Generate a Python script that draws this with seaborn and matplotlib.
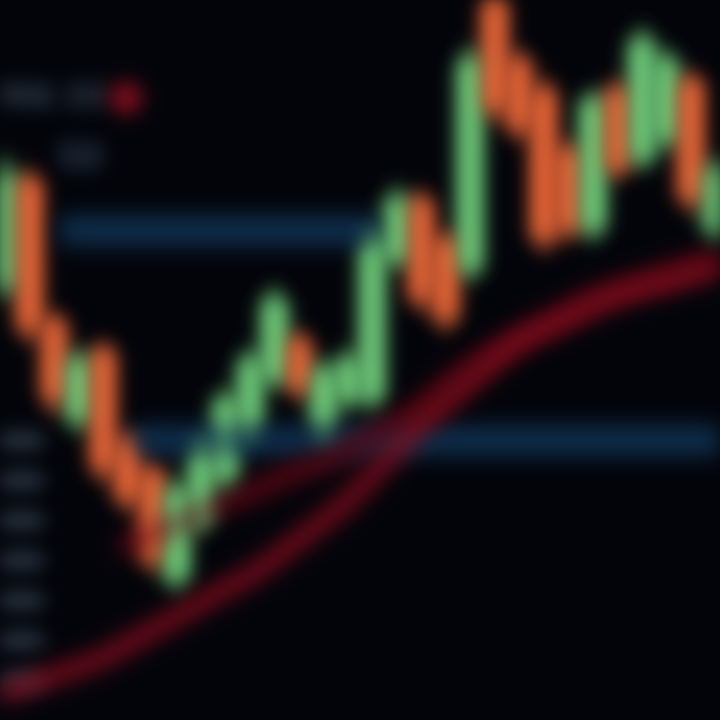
import numpy as np
import pandas as pd
import matplotlib
matplotlib.use("Agg")
import matplotlib.pyplot as plt
import seaborn as sns

# ---------------- data (price scale 0-100) ----------------
opens = [60.3, 75.0, 55.6, 41.7, 51.4, 38.9, 34.7, 19.4, 27.8, 33.3,
         40.3, 47.2, 52.8, 40.3, 44.4, 44.4, 63.9, 72.2, 66.7, 62.5,
         100.0, 91.7, 87.5, 79.2, 68.1, 87.5, 77.8, 80.6, 88.9, 68.1]
closes = [75.6, 54.2, 44.4, 50.0, 34.7, 30.6, 22.2, 31.9, 37.5, 44.4,
          50.0, 58.3, 45.8, 48.6, 50.0, 66.7, 72.2, 58.3, 55.6, 91.7,
          84.7, 81.9, 66.7, 68.1, 86.1, 76.4, 94.4, 91.7, 72.2, 76.4]
highs = [78.0, 76.5, 56.5, 51.5, 52.5, 40.0, 35.5, 33.5, 39.0, 46.0,
         51.5, 60.0, 54.0, 50.0, 51.5, 68.0, 74.0, 73.5, 68.0, 93.5,
         101.0, 93.0, 89.0, 80.5, 87.5, 89.0, 96.0, 93.0, 90.0, 78.0]
lows = [58.5, 52.5, 42.5, 40.0, 33.0, 29.0, 20.5, 18.0, 26.0, 32.0,
        39.0, 46.0, 44.5, 39.0, 43.0, 43.0, 62.5, 57.0, 54.0, 61.0,
        83.0, 80.5, 65.0, 66.5, 66.5, 75.0, 76.5, 79.0, 70.5, 66.5]
ma_fast = [3.7, 4.9, 6.1, 7.3, 8.6, 10.5, 12.4, 14.3, 16.3, 18.2,
           20.0, 22.4, 25.0, 27.6, 30.3, 33.9, 37.5, 41.1, 44.0, 46.9,
           49.9, 52.8, 54.3, 55.8, 57.4, 58.9, 59.9, 60.7, 61.7, 62.6]
ma_slow = [np.nan, np.nan, np.nan, np.nan, np.nan, 24.2, 25.7, 27.2, 28.8, 30.3,
           31.5, 33.1, 34.6, 35.8, 37.5, 39.4, 41.4, 43.3, 46.4, 49.0,
           51.1, 52.8, 54.7, 56.7, 58.6, 59.7, 60.8, 61.9, 63.1, 64.2]
levels = [68.1, 38.9]
level_start = [2.2, 5.1]
level_end = [15.3, 29.5]
axis_ticks = [38.9, 33.3, 27.8, 22.2, 16.7, 11.1, 5.6]
legend_main = "MA 20"
legend_sub = "50"

idx = np.arange(len(opens))
df = pd.DataFrame({"t": idx, "open": opens, "close": closes, "high": highs,
                   "low": lows, "ma_fast": ma_fast, "ma_slow": ma_slow})


# ---------------- blur filter ----------------
def make_blur(sigma):
    r = int(3 * sigma)
    xs = np.arange(-r, r + 1)
    k = np.exp(-xs ** 2 / (2 * sigma ** 2))
    k /= k.sum()

    def conv(a, axis):
        out = np.zeros_like(a)
        for j, w in zip(xs, k):
            out += w * np.roll(a, j, axis=axis)
        return out

    def f(im, dpi):
        pad = r + 2
        src = np.pad(im, ((pad, pad), (pad, pad), (0, 0)))
        a = src[..., 3:4]
        pre = np.concatenate([src[..., :3] * a, a], axis=2)
        b = conv(conv(pre, 0), 1)
        alpha = b[..., 3:4]
        rgb = np.where(alpha > 1e-4, b[..., :3] / np.maximum(alpha, 1e-4), 0)
        out = np.concatenate([np.clip(rgb, 0, 1), np.clip(alpha, 0, 1)], axis=2)
        return out, -pad, -pad
    return f


sns.set_theme(style="dark", rc={"axes.facecolor": "#03040a",
                                "figure.facecolor": "#03040a"})

fig = plt.figure(figsize=(7.2, 7.2), dpi=100)
ax = fig.add_axes([0, 0, 1, 1])
ax.set_facecolor("#03040a")

blur_big = make_blur(11)
blur_mid = make_blur(10)

# level lines
for lv, s, e in zip(levels, level_start, level_end):
    ln = ax.hlines(lv, s, e, color="#10304e", linewidth=22)
    ln.set_agg_filter(blur_big)

# moving averages
sns.lineplot(data=df, x="t", y="ma_slow", ax=ax, color="#5a0714",
             linewidth=14, legend=False)
ax.lines[-1].set_agg_filter(blur_big)
sns.lineplot(data=df, x="t", y="ma_fast", ax=ax, color="#8a0d1e",
             linewidth=12, legend=False)
ax.lines[-1].set_agg_filter(blur_big)

up_c, down_c = "#74d47f", "#f06a3a"
colors = [up_c if c >= o else down_c for o, c in zip(opens, closes)]

wk = ax.vlines(df["t"], df["low"], df["high"], colors=colors, linewidth=6)
wk.set_agg_filter(blur_mid)

bodies = ax.bar(df["t"], df["close"] - df["open"], bottom=df["open"],
                width=1.0, color=colors, linewidth=0)
for p in bodies.patches:
    p.set_agg_filter(blur_mid)

# blurred legend text (top-left)
t1 = ax.text(0.0, 0.865, legend_main, transform=ax.transAxes, fontsize=22,
             fontweight="bold", color="#3d4f60", ha="left", va="center")
t1.set_agg_filter(blur_mid)
t2 = ax.text(0.175, 0.865, "\u25cf", transform=ax.transAxes, fontsize=30,
             color="#8a1020", ha="center", va="center")
t2.set_agg_filter(blur_mid)
t3 = ax.text(0.11, 0.78, legend_sub, transform=ax.transAxes, fontsize=24,
             fontweight="bold", color="#34465a", ha="center", va="center")
t3.set_agg_filter(blur_mid)

ax.set_xlim(-0.2, 29.2)
ax.set_ylim(0, 100)
ax.set_xlabel("")
ax.set_ylabel("")
ax.set_xticks([])
ax.set_yticks(axis_ticks)
ax.tick_params(axis="y", direction="in", length=30, width=9,
               color="#3c4d5e", left=True, labelleft=False)
for t in ax.yaxis.get_major_ticks():
    t.tick1line.set_agg_filter(blur_mid)
for s in ax.spines.values():
    s.set_visible(False)
ax.grid(False)

fig.savefig("out.png", dpi=100, facecolor=fig.get_facecolor())
